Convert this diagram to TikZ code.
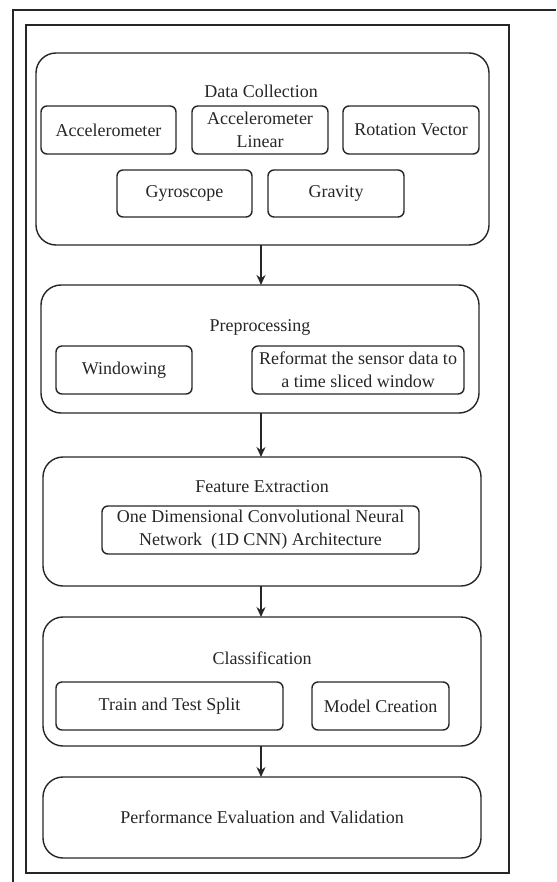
\documentclass[tikz,border=0pt]{standalone}
\usepackage{fontspec}
\setmainfont{Liberation Serif}
\usetikzlibrary{arrows.meta}
\definecolor{ink}{HTML}{262626}
\begin{document}
\begin{tikzpicture}[x=1pt,y=-1pt,
  every node/.style={inner sep=0pt,outer sep=0pt,text=ink,font=\fontsize{18}{23}\selectfont,align=center},
  bigbox/.style={draw=ink,line width=1.4pt,rounded corners=20pt,minimum width=438pt},
  smallbox/.style={draw=ink,line width=1.4pt,rounded corners=6pt,minimum height=48pt},
  arr/.style={draw=ink,line width=1.4pt,-{Stealth[length=10pt,width=9pt]}}]
\useasboundingbox (0,0) rectangle (556,882);
% outer frame (cropped)
\draw[ink,line width=1.2pt] (13,882) -- (13,10) -- (556,10);
% inner frame
\node[draw=ink,line width=1.6pt,minimum width=483pt,minimum height=848pt] (frame) at (267.5,449) {};
% Data collection
\node[bigbox,minimum width=453pt,minimum height=192pt] (dc) at (262.5,149) {};
\node (dct) at (261,91) {Data Collection};
\node[smallbox,minimum width=135pt] (acc) at (108.5,130) {Accelerometer};
\node[smallbox,minimum width=136pt] (accl) at (260,130) {Accelerometer\\Linear};
\node[smallbox,minimum width=136pt] (rot) at (411,130) {Rotation Vector};
\node[smallbox,minimum width=135pt,minimum height=47pt] (gyro) at (184.5,193.5) {Gyroscope};
\node[smallbox,minimum width=136pt,minimum height=47pt] (grav) at (336,193.5) {Gravity};
% Preprocessing
\node[bigbox,minimum height=128pt] (pre) at (260,349) {};
\node (pret) at (260,327) {Preprocessing};
\node[smallbox,minimum width=136pt] (win) at (124,370) {Windowing};
\node[smallbox,minimum width=212pt] (ref) at (358,370) {Reformat the sensor data to\\a time sliced window};
% Feature extraction
\node[bigbox,minimum height=129pt] (fe) at (262,521.5) {};
\node (fet) at (262,487) {Feature Extraction};
\node[smallbox,minimum width=317pt] (cnn) at (260.5,530) {One Dimensional Convolutional Neural\\Network \ (1D CNN) Architecture};
% Classification
\node[bigbox,minimum height=129pt] (cl) at (262,681.5) {};
\node (clt) at (262,658) {Classification};
\node[smallbox,minimum width=227pt] (tts) at (169.5,706) {Train and Test Split};
\node[smallbox,minimum width=137pt] (mc) at (380.5,706) {Model Creation};
% Performance
\node[bigbox,minimum height=81pt] (perf) at (262,817.5) {Performance Evaluation and Validation};
% arrows
\coordinate (a1) at (261,0);
\draw[arr] (dc.south -| a1) -- (pre.north -| a1);
\draw[arr] (pre.south -| a1) -- (fe.north -| a1);
\draw[arr] (fe.south -| a1) -- (cl.north -| a1);
\draw[arr] (cl.south -| a1) -- (perf.north -| a1);
\end{tikzpicture}
\end{document}
